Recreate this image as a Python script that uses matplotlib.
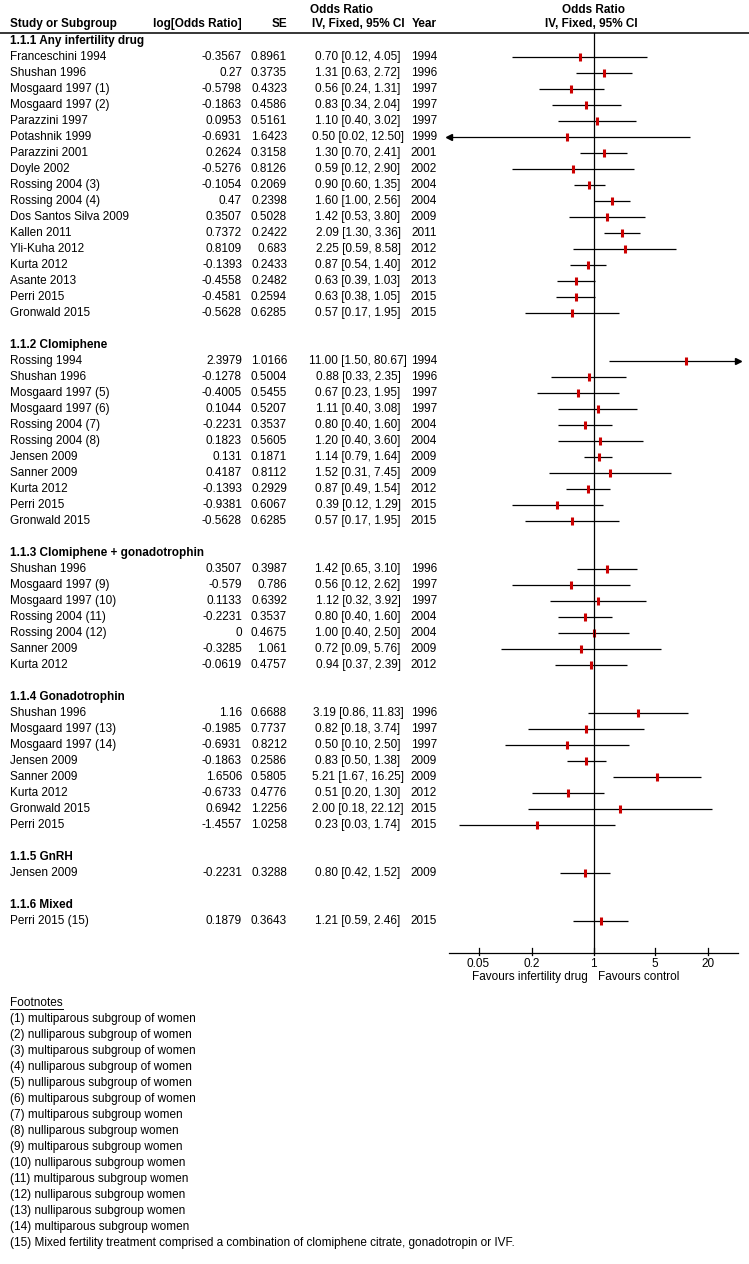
import matplotlib.pyplot as plt
import numpy as np

plt.rcParams['font.family'] = ['Liberation Sans', 'DejaVu Sans']

# subgroup titles and the studies in each one
groups = ['1.1.1 Any infertility drug', '1.1.2 Clomiphene',
          '1.1.3 Clomiphene + gonadotrophin', '1.1.4 Gonadotrophin',
          '1.1.5 GnRH', '1.1.6 Mixed']

studies = [
    ['Franceschini 1994', 'Shushan 1996', 'Mosgaard 1997 (1)', 'Mosgaard 1997 (2)',
     'Parazzini 1997', 'Potashnik 1999', 'Parazzini 2001', 'Doyle 2002',
     'Rossing 2004 (3)', 'Rossing 2004 (4)', 'Dos Santos Silva 2009', 'Kallen 2011',
     'Yli-Kuha 2012', 'Kurta 2012', 'Asante 2013', 'Perri 2015', 'Gronwald 2015'],
    ['Rossing 1994', 'Shushan 1996', 'Mosgaard 1997 (5)', 'Mosgaard 1997 (6)',
     'Rossing 2004 (7)', 'Rossing 2004 (8)', 'Jensen 2009', 'Sanner 2009',
     'Kurta 2012', 'Perri 2015', 'Gronwald 2015'],
    ['Shushan 1996', 'Mosgaard 1997 (9)', 'Mosgaard 1997 (10)', 'Rossing 2004 (11)',
     'Rossing 2004 (12)', 'Sanner 2009', 'Kurta 2012'],
    ['Shushan 1996', 'Mosgaard 1997 (13)', 'Mosgaard 1997 (14)', 'Jensen 2009',
     'Sanner 2009', 'Kurta 2012', 'Gronwald 2015', 'Perri 2015'],
    ['Jensen 2009'],
    ['Perri 2015 (15)'],
]

log_or = [
    [-0.3567, 0.27, -0.5798, -0.1863, 0.0953, -0.6931, 0.2624, -0.5276, -0.1054,
     0.47, 0.3507, 0.7372, 0.8109, -0.1393, -0.4558, -0.4581, -0.5628],
    [2.3979, -0.1278, -0.4005, 0.1044, -0.2231, 0.1823, 0.131, 0.4187, -0.1393,
     -0.9381, -0.5628],
    [0.3507, -0.579, 0.1133, -0.2231, 0, -0.3285, -0.0619],
    [1.16, -0.1985, -0.6931, -0.1863, 1.6506, -0.6733, 0.6942, -1.4557],
    [-0.2231],
    [0.1879],
]

se = [
    [0.8961, 0.3735, 0.4323, 0.4586, 0.5161, 1.6423, 0.3158, 0.8126, 0.2069,
     0.2398, 0.5028, 0.2422, 0.683, 0.2433, 0.2482, 0.2594, 0.6285],
    [1.0166, 0.5004, 0.5455, 0.5207, 0.3537, 0.5605, 0.1871, 0.8112, 0.2929,
     0.6067, 0.6285],
    [0.3987, 0.786, 0.6392, 0.3537, 0.4675, 1.061, 0.4757],
    [0.6688, 0.7737, 0.8212, 0.2586, 0.5805, 0.4776, 1.2256, 1.0258],
    [0.3288],
    [0.3643],
]

odds = [
    [0.70, 1.31, 0.56, 0.83, 1.10, 0.50, 1.30, 0.59, 0.90, 1.60, 1.42, 2.09, 2.25,
     0.87, 0.63, 0.63, 0.57],
    [11.00, 0.88, 0.67, 1.11, 0.80, 1.20, 1.14, 1.52, 0.87, 0.39, 0.57],
    [1.42, 0.56, 1.12, 0.80, 1.00, 0.72, 0.94],
    [3.19, 0.82, 0.50, 0.83, 5.21, 0.51, 2.00, 0.23],
    [0.80],
    [1.21],
]

ci_low = [
    [0.12, 0.63, 0.24, 0.34, 0.40, 0.02, 0.70, 0.12, 0.60, 1.00, 0.53, 1.30, 0.59,
     0.54, 0.39, 0.38, 0.17],
    [1.50, 0.33, 0.23, 0.40, 0.40, 0.40, 0.79, 0.31, 0.49, 0.12, 0.17],
    [0.65, 0.12, 0.32, 0.40, 0.40, 0.09, 0.37],
    [0.86, 0.18, 0.10, 0.50, 1.67, 0.20, 0.18, 0.03],
    [0.42],
    [0.59],
]

ci_high = [
    [4.05, 2.72, 1.31, 2.04, 3.02, 12.50, 2.41, 2.90, 1.35, 2.56, 3.80, 3.36, 8.58,
     1.40, 1.03, 1.05, 1.95],
    [80.67, 2.35, 1.95, 3.08, 1.60, 3.60, 1.64, 7.45, 1.54, 1.29, 1.95],
    [3.10, 2.62, 3.92, 1.60, 2.50, 5.76, 2.39],
    [11.83, 3.74, 2.50, 1.38, 16.25, 1.30, 22.12, 1.74],
    [1.52],
    [2.46],
]

years = [
    [1994, 1996, 1997, 1997, 1997, 1999, 2001, 2002, 2004, 2004, 2009, 2011, 2012,
     2012, 2013, 2015, 2015],
    [1994, 1996, 1997, 1997, 2004, 2004, 2009, 2009, 2012, 2015, 2015],
    [1996, 1997, 1997, 2004, 2004, 2009, 2012],
    [1996, 1997, 1997, 2009, 2009, 2012, 2015, 2015],
    [2009],
    [2015],
]

ticks = [0.05, 0.2, 1, 5, 20]
tick_labels = ['0.05', '0.2', '1', '5', '20']

footnotes = [
    '(1) multiparous subgroup of women',
    '(2) nulliparous subgroup of women',
    '(3) multiparous subgroup of women',
    '(4) nulliparous subgroup of women',
    '(5) nulliparous subgroup of women',
    '(6) multiparous subgroup of women',
    '(7) multiparous subgroup women',
    '(8) nulliparous subgroup women',
    '(9) multiparous subgroup women',
    '(10) nulliparous subgroup women',
    '(11) multiparous subgroup women',
    '(12) nulliparous subgroup women',
    '(13) nulliparous subgroup women',
    '(14) multiparous subgroup women',
    '(15) Mixed fertility treatment comprised a combination of clomiphene citrate, gonadotropin or IVF.',
]

W, H = 749, 1264
fig = plt.figure(figsize=(W / 100, H / 100), dpi=100)
fig.patch.set_facecolor('white')

# text layer in pixel coordinates
tx = fig.add_axes([0, 0, 1, 1])
tx.set_xlim(0, W)
tx.set_ylim(H, 0)
tx.axis('off')

# forest layer, log x
left_px, right_px = 449, 738
lim = 10 ** 1.635
fx = fig.add_axes([left_px / W, 0, (right_px - left_px) / W, 1])
fx.set_xscale('log')
fx.set_xlim(1 / lim, lim)
fx.set_ylim(H, 0)
fx.axis('off')

fs = 8.5
red = '#cc0000'

# header
tx.text(342, 10, 'Odds Ratio', ha='center', va='center', fontsize=fs, fontweight='bold')
tx.text(10, 24, 'Study or Subgroup', ha='left', va='center', fontsize=fs, fontweight='bold')
tx.text(242, 24, 'log[Odds Ratio]', ha='right', va='center', fontsize=fs, fontweight='bold')
tx.text(287, 24, 'SE', ha='right', va='center', fontsize=fs, fontweight='bold')
tx.text(358, 24, 'IV, Fixed, 95% CI', ha='center', va='center', fontsize=fs, fontweight='bold')
tx.text(437, 24, 'Year', ha='right', va='center', fontsize=fs, fontweight='bold')
tx.text(593, 10, 'Odds Ratio', ha='center', va='center', fontsize=fs, fontweight='bold')
tx.text(591, 24, 'IV, Fixed, 95% CI', ha='center', va='center', fontsize=fs, fontweight='bold')
tx.plot([0, W], [33, 33], color='black', lw=1.1)

row_h = 16
y0 = 41
k = 0
for g, title in enumerate(groups):
    y = y0 + k * row_h
    tx.text(10, y, title, ha='left', va='center', fontsize=fs, fontweight='bold')
    k += 1
    for i, name in enumerate(studies[g]):
        y = y0 + k * row_h
        tx.text(10, y, name, ha='left', va='center', fontsize=fs)
        tx.text(242, y, '{:g}'.format(log_or[g][i]), ha='right', va='center', fontsize=fs)
        tx.text(287, y, '{:g}'.format(se[g][i]), ha='right', va='center', fontsize=fs)
        tx.text(358, y, '%.2f [%.2f, %.2f]' % (odds[g][i], ci_low[g][i], ci_high[g][i]),
                ha='center', va='center', fontsize=fs)
        tx.text(437, y, str(years[g][i]), ha='right', va='center', fontsize=fs)

        lo = max(ci_low[g][i], 1 / lim)
        hi = min(ci_high[g][i], lim)
        fx.plot([lo, hi], [y, y], color='black', lw=0.9, solid_capstyle='butt')
        if ci_low[g][i] < 1 / lim:
            fx.plot([lo], [y], marker='<', color='black', ms=4.5, clip_on=False)
        if ci_high[g][i] > lim:
            fx.plot([hi], [y], marker='>', color='black', ms=4.5, clip_on=False)
        fx.plot([odds[g][i]], [y], marker='|', color=red, ms=6, mew=2.2)
        k += 1
    k += 1

# axis
axis_y = 953
fx.plot([1, 1], [33, axis_y], color='black', lw=0.9)
fx.plot([1 / lim, lim], [axis_y, axis_y], color='black', lw=0.9, clip_on=False)
for t, lab in zip(ticks, tick_labels):
    fx.plot([t, t], [axis_y - 5, axis_y + 2], color='black', lw=0.9)
    fx.text(t, 964, lab, ha='center', va='center', fontsize=fs)
tx.text(588, 977, 'Favours infertility drug', ha='right', va='center', fontsize=fs)
tx.text(598, 977, 'Favours control', ha='left', va='center', fontsize=fs)

# footnotes
fn = tx.text(10, 1003, 'Footnotes', ha='left', va='center', fontsize=fs)
fig.canvas.draw()
bb = fn.get_window_extent()
tx.plot([10, 10 + bb.width], [1009, 1009], color='black', lw=0.7)
for j, note in enumerate(footnotes):
    tx.text(10, 1019 + j * row_h, note, ha='left', va='center', fontsize=fs)

fig.savefig('out.png', dpi=100, facecolor='white')
